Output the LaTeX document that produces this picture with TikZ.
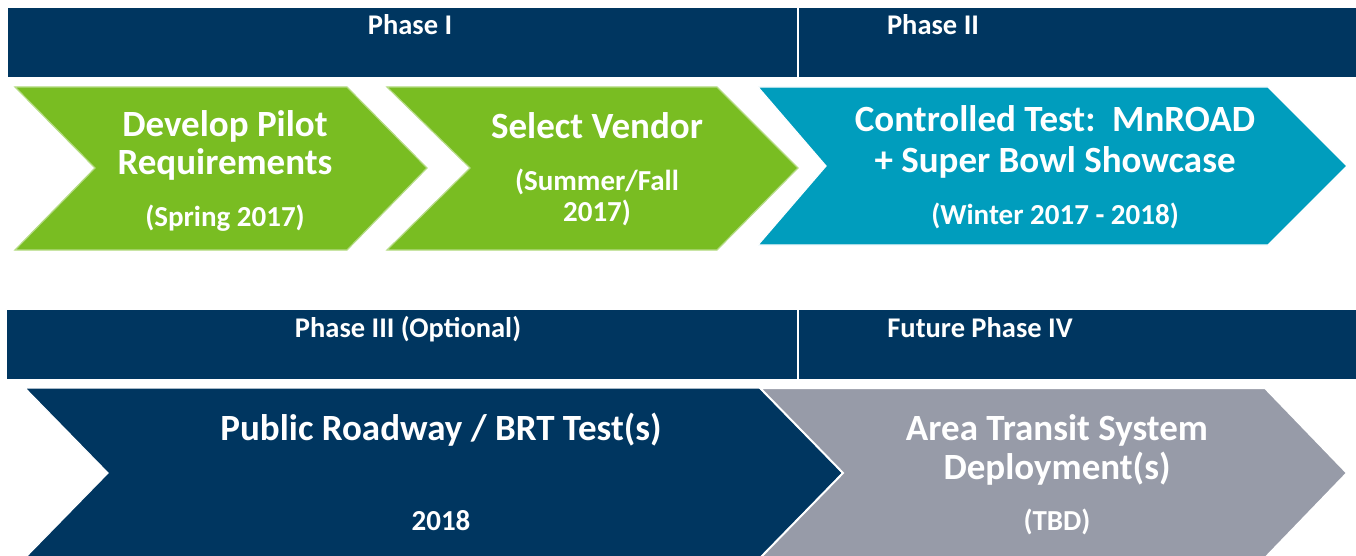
\documentclass[tikz,border=0pt]{standalone}
\usepackage{fontspec}
\setmainfont{Carlito}
\definecolor{phasenavy}{RGB}{0,54,96}
\definecolor{stepgreen}{RGB}{121,189,34}
\definecolor{stepcyan}{RGB}{0,157,189}
\definecolor{stepgrey}{RGB}{151,155,168}
\tikzset{
  bigtext/.style={text=white,font=\bfseries\fontsize{37}{40}\selectfont,anchor=base},
  smalltext/.style={text=white,font=\bfseries\fontsize{29}{31}\selectfont,anchor=base},
  phasetext/.style={text=white,font=\bfseries\fontsize{28.5}{30}\selectfont,anchor=base}
}
\begin{document}
\begin{tikzpicture}[x=1pt,y=-1pt]
			\useasboundingbox (0,0) rectangle (1356,556);
			% phase banners
			\begin{scope}[every path/.style={fill=phasenavy}]
				\fill (8,8) rectangle (1356,77);
				\fill (7,310) rectangle (1356,379);
			\end{scope}
			\begin{scope}[every path/.style={draw=white,line width=1.5pt}]
				\draw (798,8) -- (798,77);
				\draw (798,310) -- (798,379);
			\end{scope}
			% chevrons
			\begin{scope}[line width=1.2pt]
				\filldraw[fill=stepgreen,draw=stepgreen!55!white] (15,87) -- (347,87) -- (427,168) -- (347,250) -- (15,250) -- (95,168) -- cycle;
				\filldraw[fill=stepgreen,draw=stepgreen!55!white] (387,87) -- (717,87) -- (798,168) -- (717,250) -- (387,250) -- (470,168) -- cycle;
				\filldraw[fill=stepcyan,draw=white] (758,87) -- (1268,87) -- (1347,166) -- (1268,245) -- (758,245) -- (826,166) -- cycle;
				\filldraw[fill=phasenavy,draw=white] (25,388) -- (760,388) -- (843,473) -- (760,558) -- (25,558) -- (108,473) -- cycle;
				\filldraw[fill=stepgrey,draw=white,line width=2pt] (760,388) -- (1265,388) -- (1347,473) -- (1265,558) -- (760,558) -- (843,473) -- cycle;
			\end{scope}
			% phase titles
			\begin{scope}[every node/.style={phasetext}]
				\node (p1) at (410,35) {Phase I};
				\node (p2) at (933,35) {Phase II};
				\node (p3) at (408,337) {Phase III (Optional)};
				\node (p4) at (980,337) {Future Phase IV};
			\end{scope}
			% step texts
			\begin{scope}[every node/.style={bigtext}]
				\node (dev) at (225,137) {Develop Pilot};
				\node (req) at (225,175) {Requirements};
				\node (sel) at (597,139) {Select Vendor};
				\node (ctl) at (1055,132) {Controlled Test:\ \ MnROAD};
				\node (bowl) at (1055,172) {+ Super Bowl Showcase};
				\node (pub) at (441,440) {Public Roadway / BRT Test(s)};
				\node (area) at (1057,440) {Area Transit System};
				\node (depl) at (1057,479) {Deployment(s)};
			\end{scope}
			\begin{scope}[every node/.style={smalltext}]
				\node (spr) at (225,226) {(Spring 2017)};
				\node (sum) at (597,190) {(Summer/Fall};
				\node (sumy) at (597,221) {2017)};
				\node (win) at (1055,224) {(Winter 2017 - 2018)};
				\node (yr) at (441,530) {2018};
				\node (tbd) at (1057,530) {(TBD)};
			\end{scope}
		\end{tikzpicture}
\end{document}
